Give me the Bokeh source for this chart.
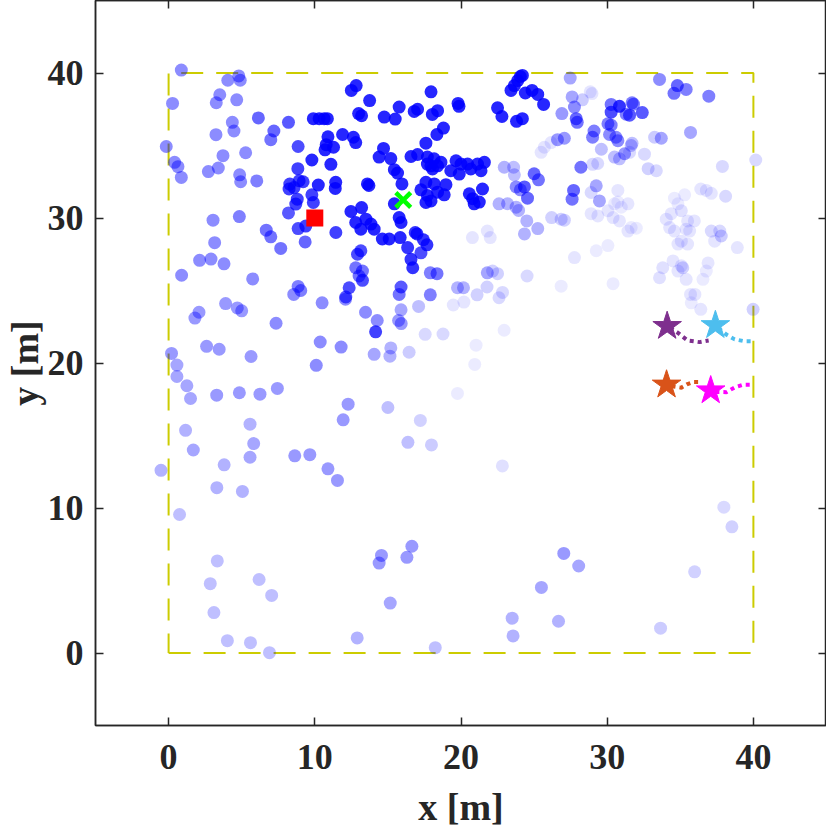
from bokeh.plotting import figure
from bokeh.models import ColumnDataSource, FixedTicker, LinearAxis, CustomJSTickFormatter, Range1d
from bokeh.embed import file_html
from bokeh.resources import INLINE

# ---------------- data ----------------
# particles: x [m], y [m], weight (drawn as opacity)
px = [0.87, 4.8, 4.9, 4.05, 3.5, 3.26, 4.66, 0.27, 6.14, 8.2, 9.9, 10.3, 10.64, 10.86, 4.36, 4.47, 7.2, 6.99, 3.24,
      10.9, 10.78, 11.28, 10.7, 11.9, -0.16, 8.86, 5.27, 3.72, 9.8, 11.1, 0.41, 0.64, 0.87, 2.72, 3.4, 4.86, 4.93, 6.03,
      8.84, 8.29, 8.24, 8.58, 8.93, 9.2, 10.24, 11.43, 11.4, 9.8, 9.9, 8.8, 8.7, 8.2, 9.38, 8.86, 11.44, 9.34, 6.68,
      6.99, 7.67, 4.84, 3.04, 3.15, 2.12, 2.9, 3.79, 0.89, 5.75, 8.86, 9.04, 8.56, 10.5, 2.08, 1.8, 3.9, 4.7, 5.0, 7.35,
      2.6, 3.46, 0.2, 5.64, 10.37, 10.1, 11.8, 0.57, 0.57, 1.25, 1.5, 3.29, 4.84, 6.25, 7.44, 11.94, 1.16, 5.57, 5.82,
      1.69, 5.57, 8.63, 9.66, 10.9, 11.55, -0.52, 3.8, 3.3, 5.05, 0.75,
      3.33, 2.85, 6.19, 7.05, 3.1, 4.02, 5.6, 6.9, 12.9, 14.56, 14.4, 16.64, 16.3, 15.16, 18.24,
      27.03, 28.05, 25.5, 23.5, 23.56, 26.67, 35.98, 33.65,
      39.98, 35.75, 36.4, 37.98, 38.53,
      12.1, 13.47, 14.27, 14.16, 14.06, 15.14, 15.2, 15.9, 15.73, 15.91, 17.1, 16.45, 17.55, 18.77, 19.47, 20.2, 21.03,
      20.94, 19.76, 22.95, 12.28, 15.0, 17.22, 16.37, 17.98, 22.83,
      12.5, 12.83, 13.75, 17.95, 13.0, 13.2, 14.75, 15.5, 15.77, 16.8, 17.03, 18.04, 18.4, 19.8, 19.86, 22.5, 22.8,
      23.42, 23.65, 23.88, 24.06, 24.2, 24.4, 24.86, 25.25, 25.65, 23.8, 24.2, 12.64, 12.8, 17.6, 18.35, 18.8, 14.7,
      14.4, 15.2, 15.44, 15.66, 15.96, 16.58, 17.03, 17.7, 18.16, 17.94, 18.4, 18.63, 17.7, 18.05, 19.66, 20.0, 19.3,
      19.88, 20.45, 20.67, 21.13, 21.6, 21.37, 13.6, 13.7, 17.6, 18.17, 18.97, 17.26, 17.7, 18.4, 18.85, 17.6, 17.95,
      20.57, 20.8, 20.9, 21.25, 21.47, 12.47, 13.2, 15.44, 15.77, 15.9, 12.8, 13.15, 13.5, 13.84, 14.06, 14.62, 15.09,
      15.84, 16.87, 16.99, 17.43, 17.67, 16.35, 13.15, 12.92, 17.26, 16.58, 16.7, 12.8, 13.26, 13.03, 13.26, 12.35,
      12.12, 15.9, 15.77, 17.9, 18.36, 17.9, 19.76, 20.17, 21.8, 22.16, 22.5, 21.78, 21.1, 22.84, 22.6, 24.52, 20.78,
      21.8, 22.0, 22.6, 23.18, 23.77, 23.94, 22.96, 23.6, 23.65, 23.77, 24.06, 24.34, 24.55, 25.0, 25.3, 24.5, 25.25,
      24.34, 26.2, 26.85, 27.07, 25.48, 25.7, 26.16, 26.6, 27.07, 26.9, 27.47, 27.6, 27.76, 27.88, 27.95, 28.2, 27.7,
      27.6,
      28.3, 28.84, 28.96, 30.27, 30.84, 30.27, 31.7, 31.8, 31.3, 31.53, 32.4, 30.05, 30.27, 33.58, 34.8, 34.57, 35.4,
      36.95, 29.1, 29.0, 30.16, 30.6, 30.73, 29.6, 31.7, 31.64, 33.24, 33.7, 35.7, 30.5, 30.84, 31.19, 31.53, 32.55,
      29.0, 29.35, 32.8, 33.36, 37.88, 40.16, 28.9, 29.25, 29.47, 29.36, 30.05, 30.5, 30.73, 30.96, 31.42, 30.4, 30.84,
      31.42, 31.64, 31.99, 30.73, 28.9, 27.76, 29.25, 30.05, 30.4, 34.6, 35.3, 34.84, 34.38, 35.07, 34.04, 34.27, 34.6,
      35.5, 35.96, 35.4, 35.64, 35.07, 35.5, 34.84, 36.4, 36.78, 37.12, 38.1, 37.12, 37.7, 37.8, 37.35, 38.9, 34.5,
      35.07, 35.17, 34.84, 33.8, 33.58, 36.9, 36.78, 36.55, 35.4, 35.7, 36.0, 26.85]
py = [40.2, 39.8, 39.5, 39.5, 38.5, 37.95, 38.15, 37.9, 36.9, 36.6, 36.85, 36.85, 36.85, 36.85, 36.6, 36.0, 36.0, 35.4,
      35.75, 35.6, 35.06, 34.88, 34.7, 35.76, 34.93, 34.93, 34.5, 34.3, 34.0, 33.7, 33.84, 33.54, 32.8, 33.2, 33.45,
      32.98, 32.5, 32.56, 33.4, 32.34, 32.0, 32.1, 32.57, 32.5, 32.27, 32.46, 32.04, 31.6, 31.07, 31.3, 30.96, 30.35,
      29.44, 29.27, 29.0, 28.35, 29.16, 28.7, 27.9, 30.1, 29.85, 28.3, 27.08, 27.17, 26.84, 26.05, 25.8, 25.28, 25.0,
      24.73, 24.15, 23.5, 23.1, 24.1, 23.8, 23.6, 22.74, 21.15, 20.95, 20.66, 20.45, 21.45, 19.84, 21.1, 19.86, 19.07,
      18.43, 17.55, 17.78, 17.95, 17.85, 18.25, 16.08, 15.36, 15.78, 14.44, 14.0, 13.5, 13.6, 13.68, 12.7, 11.9, 12.6,
      12.98, 11.4, 11.14, 9.55,
      6.35, 4.78, 5.07, 3.97, 2.79, 0.85, 0.71, 0.02, 1.04, 6.73, 6.2, 7.36, 6.6, 3.44, 0.37,
      6.87, 6.0, 4.52, 2.4, 1.18, 2.19, 5.6, 1.71,
      23.7, 24.15, 23.7, 10.06, 8.7,
      24.4, 23.5, 22.93, 22.15, 20.6, 20.47, 21.04, 23.67, 22.93, 22.72, 23.9, 20.74, 21.98, 22.0, 24.0, 24.2, 21.23,
      19.9, 17.9, 22.26, 17.16, 16.93, 16.04, 14.53, 14.35, 12.9,
      38.8, 39.13, 38.1, 38.7, 37.2, 37.05, 36.96, 36.82, 37.65, 37.35, 37.5, 37.14, 37.4, 37.9, 37.7, 37.6, 37.0,
      38.8, 39.13, 39.48, 39.76, 39.83, 38.62, 38.8, 38.52, 37.83, 36.67, 36.85, 35.57, 35.2, 35.16, 35.76, 36.2, 34.8,
      34.2, 34.1, 33.33, 33.1, 32.35, 34.24, 34.38, 34.2, 34.08, 33.6, 33.6, 33.84, 33.72, 33.38, 33.95, 33.72, 33.26,
      33.03, 33.72, 33.38, 33.72, 33.84, 33.26, 32.35, 32.24, 32.46, 32.35, 32.3, 31.94, 31.55, 31.78, 31.6, 31.07,
      31.18, 31.67, 31.33, 30.98, 31.1, 32.0, 30.45, 30.72, 30.98, 30.03, 29.69, 29.69, 29.23, 29.92, 29.58, 29.23,
      28.55, 28.55, 28.65, 29.0, 28.9, 28.5, 28.15, 27.96, 27.74, 27.5, 27.6, 27.15, 26.57, 26.57, 26.34, 26.0, 25.7,
      25.19, 24.55, 25.24, 24.73, 26.22, 26.16, 24.7, 25.19, 25.19, 26.22, 26.34, 26.16, 25.24, 24.7, 24.87, 24.5,
      26.0, 28.65, 29.1, 28.65, 30.98, 30.98, 30.75, 30.52, 33.5, 33.5, 32.98, 32.14, 31.94, 32.14, 31.37, 33.05,
      32.63, 29.8, 29.27, 28.9, 30.03, 29.92, 29.85, 34.53, 34.88, 35.2, 35.4, 35.5, 37.2, 39.65, 38.35, 37.65, 36.85,
      36.6, 33.5, 31.9, 31.3,
      38.15, 38.7, 38.58, 37.83, 37.7, 37.3, 37.94, 37.85, 37.16, 37.09, 37.27, 36.5, 36.4, 39.56, 39.13, 38.6, 38.87,
      38.4, 36.0, 35.57, 35.76, 35.57, 35.33, 34.74, 35.15, 35.0, 35.57, 35.5, 35.9, 34.2, 34.08, 34.43, 34.53, 34.4,
      33.7, 33.76, 33.4, 33.26, 33.56, 34.0, 31.76, 32.22, 31.18, 30.14, 30.5, 30.98, 31.1, 30.75, 30.98, 30.03, 29.8,
      29.1, 29.34, 29.3, 31.9, 30.3, 27.27, 27.74, 28.1, 25.47, 31.37, 31.6, 30.98, 30.3, 30.5, 29.92, 29.34, 29.1,
      29.8, 29.8, 29.23, 29.1, 28.4, 28.2, 28.2, 32.0, 31.9, 31.7, 31.5, 29.1, 29.1, 28.76, 28.4, 27.96, 27.04, 26.7,
      26.57, 26.34, 26.57, 25.88, 26.9, 26.34, 25.77, 25.77, 24.73, 24.73, 25.3]
pw = [0.45, 0.45, 0.45, 0.45, 0.45, 0.45, 0.45, 0.45, 0.6, 0.65, 0.85, 0.85, 0.85, 0.85, 0.45, 0.45, 0.6, 0.55, 0.45,
      0.85, 0.85, 0.85, 0.85, 0.85, 0.45, 0.7, 0.45, 0.45, 0.85, 0.85, 0.45, 0.45, 0.45, 0.45, 0.45, 0.45, 0.45, 0.5,
      0.75, 0.75, 0.75, 0.75, 0.75, 0.75, 0.85, 0.85, 0.85, 0.75, 0.75, 0.75, 0.75, 0.65, 0.75, 0.7, 0.75, 0.6, 0.55,
      0.55, 0.55, 0.5, 0.45, 0.45, 0.45, 0.45, 0.45, 0.45, 0.45, 0.5, 0.5, 0.45, 0.45, 0.4, 0.4, 0.4, 0.4, 0.4, 0.45,
      0.4, 0.4, 0.4, 0.4, 0.45, 0.45, 0.45, 0.35, 0.35, 0.35, 0.35, 0.4, 0.4, 0.4, 0.4, 0.4, 0.3, 0.3, 0.35, 0.35,
      0.35, 0.4, 0.4, 0.4, 0.4, 0.3, 0.3, 0.3, 0.3, 0.25,
      0.25, 0.25, 0.25, 0.25, 0.25, 0.25, 0.25, 0.25, 0.3, 0.4, 0.4, 0.4, 0.4, 0.35, 0.25,
      0.4, 0.35, 0.35, 0.3, 0.3, 0.3, 0.18, 0.2,
      0.18, 0.08, 0.1, 0.15, 0.18,
      0.45, 0.45, 0.45, 0.75, 0.35, 0.3, 0.3, 0.35, 0.4, 0.4, 0.25, 0.2, 0.15, 0.15, 0.1, 0.1, 0.08, 0.08, 0.08, 0.08,
      0.4, 0.25, 0.18, 0.25, 0.2, 0.12,
      0.85, 0.85, 0.85, 0.85, 0.85, 0.85, 0.85, 0.85, 0.85, 0.85, 0.85, 0.85, 0.85, 0.85, 0.85, 0.85, 0.85, 0.85,
      0.85, 0.85, 0.85, 0.85, 0.85, 0.85, 0.85, 0.85, 0.85, 0.85, 0.85, 0.85, 0.85, 0.85, 0.85, 0.85, 0.85, 0.85,
      0.85, 0.85, 0.85, 0.85, 0.85, 0.85, 0.85, 0.85, 0.85, 0.85, 0.85, 0.85, 0.85, 0.85, 0.85, 0.85, 0.85, 0.85,
      0.85, 0.85, 0.85, 0.85, 0.85, 0.85, 0.85, 0.85, 0.85, 0.85, 0.85, 0.85, 0.85, 0.85, 0.85, 0.85, 0.85, 0.85,
      0.85, 0.85, 0.85, 0.85, 0.85, 0.85, 0.85, 0.85, 0.85, 0.85, 0.85, 0.85, 0.85, 0.85, 0.8, 0.8, 0.8, 0.8, 0.8,
      0.7, 0.7, 0.7, 0.8, 0.8, 0.55, 0.55, 0.55, 0.7, 0.7, 0.65, 0.65, 0.55, 0.5, 0.55, 0.5, 0.3, 0.3, 0.35, 0.18,
      0.18, 0.18, 0.18, 0.15, 0.15, 0.15, 0.1, 0.1, 0.1, 0.3, 0.3, 0.3, 0.3, 0.3, 0.25, 0.25, 0.45, 0.45, 0.65, 0.6,
      0.6, 0.55, 0.3, 0.3, 0.3, 0.18, 0.18, 0.18, 0.1, 0.1, 0.1, 0.4, 0.4, 0.4, 0.35, 0.35, 0.45, 0.6, 0.55, 0.55,
      0.6, 0.55, 0.2, 0.1, 0.1,
      0.55, 0.8, 0.7, 0.5, 0.5, 0.5, 0.65, 0.65, 0.5, 0.5, 0.45, 0.6, 0.55, 0.5, 0.5, 0.5, 0.5, 0.45, 0.45, 0.45,
      0.25, 0.25, 0.25, 0.2, 0.35, 0.35, 0.25, 0.25, 0.4, 0.15, 0.15, 0.15, 0.15, 0.18, 0.15, 0.15, 0.15, 0.15, 0.35,
      0.35, 0.1, 0.1, 0.08, 0.08, 0.08, 0.1, 0.1, 0.1, 0.1, 0.08, 0.08, 0.1, 0.1, 0.1, 0.08, 0.08, 0.08, 0.08, 0.08,
      0.08, 0.1, 0.12, 0.1, 0.1, 0.1, 0.1, 0.1, 0.1, 0.1, 0.1, 0.1, 0.1, 0.1, 0.1, 0.1, 0.15, 0.15, 0.15, 0.2, 0.1,
      0.1, 0.1, 0.1, 0.18, 0.1, 0.12, 0.12, 0.1, 0.08, 0.08, 0.1, 0.1, 0.1, 0.08, 0.08, 0.08, 0.15]

# surveillance area boundary
area_x = [0, 40, 40, 0, 0]
area_y = [0, 0, 40, 40, 0]

# estimate (red square) and reference (green cross)
est_x, est_y = [10.0], [30.0]
ref_x, ref_y = [16.05], [31.24]

# targets: trajectories and current positions
purple_tx = [34.3, 34.84, 35.5, 36.32, 36.94]
purple_ty = [22.45, 22.08, 21.55, 21.44, 21.55]
cyan_tx = [37.6, 38.15, 38.72, 39.4, 40.05]
cyan_ty = [22.4, 21.96, 21.63, 21.5, 21.5]
orange_tx = [34.4, 35.07, 35.5, 35.9, 36.4]
orange_ty = [18.4, 18.3, 18.55, 18.69, 18.69]
magenta_tx = [37.4, 38.15, 38.72, 39.3, 39.98]
magenta_ty = [18.0, 17.99, 18.32, 18.5, 18.5]
star_x = [34.1, 37.4, 34.06, 37.08]
star_y = [22.54, 22.6, 18.5, 18.1]
star_col = ["#7E2F8E", "#4DBEEE", "#D95319", "#FF00FF"]

ticks = [0, 10, 20, 30, 40]

# ---------------- figure ----------------
FONT = "Liberation Serif"
AX = "#262626"

p = figure(width=826, height=830, x_range=Range1d(-5, 45), y_range=Range1d(-5, 45),
           output_backend="svg", toolbar_location=None,
           min_border_left=10, min_border_right=0, min_border_top=0, min_border_bottom=10)
p.grid.visible = False
p.outline_line_color = AX
p.outline_line_width = 1.5
p.background_fill_color = "white"
p.border_fill_color = "white"

def style_axis(ax, label=True):
    ax.ticker = FixedTicker(ticks=ticks)
    ax.major_tick_in = 8
    ax.major_tick_out = 0
    ax.minor_tick_line_color = None
    ax.axis_line_color = AX
    ax.axis_line_width = 1.5
    ax.major_tick_line_color = AX
    ax.major_tick_line_width = 1.5
    ax.major_label_text_font = FONT
    ax.major_label_text_font_style = "bold"
    ax.major_label_text_font_size = "36px"
    ax.major_label_text_color = AX
    ax.axis_label_text_font = FONT
    ax.axis_label_text_font_style = "bold"
    ax.axis_label_text_font_size = "38px"
    ax.axis_label_text_color = AX
    if not label:
        ax.formatter = CustomJSTickFormatter(code="return '';")
        ax.major_label_standoff = 0
        ax.major_label_text_font_size = "0px"

style_axis(p.xaxis[0])
style_axis(p.yaxis[0])
p.xaxis.axis_label = "x [m]"
p.yaxis.axis_label = "y [m]"
p.xaxis.major_label_standoff = 19
p.xaxis.axis_label_standoff = 14
p.yaxis.major_label_standoff = 12
p.yaxis.axis_label_standoff = -1

top = LinearAxis()
right = LinearAxis()
style_axis(top, label=False)
style_axis(right, label=False)
p.add_layout(top, "above")
p.add_layout(right, "right")

# area boundary
p.line(area_x, area_y, line_color="#CCCC00", line_width=2, line_dash="22 13")

# particles
src = ColumnDataSource(dict(x=px, y=py, w=pw))
p.scatter("x", "y", source=src, size=13, marker="circle", fill_color="#0000FF",
          fill_alpha="w", line_color=None)

# estimate and reference
p.scatter(est_x, est_y, marker="square", size=17, fill_color="#FF0000", line_color=None)
p.scatter(ref_x, ref_y, marker="x", size=21, line_color="#00FF00", line_width=4.5)

# target trajectories
for tx, ty, c in [(purple_tx, purple_ty, star_col[0]), (cyan_tx, cyan_ty, star_col[1]),
                  (orange_tx, orange_ty, star_col[2]), (magenta_tx, magenta_ty, star_col[3])]:
    p.line(tx, ty, line_color=c, line_width=4, line_dash="4 4")

p.scatter(star_x, star_y, marker="star", size=30, fill_color=star_col, line_color=star_col, line_width=1)

open("out.html", "w").write(file_html(p, INLINE))
